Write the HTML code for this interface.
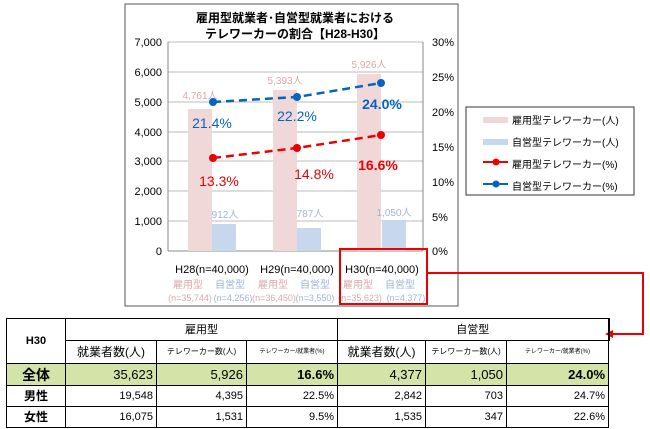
<!DOCTYPE html>
<html><head><meta charset="utf-8"><style>
body{margin:0;width:650px;height:429px;background:#fff;overflow:hidden;font-family:"Liberation Sans","Noto Sans CJK JP",sans-serif}
svg{position:absolute;left:0;top:0}
table{position:absolute;left:6px;top:318px;border-collapse:collapse;table-layout:fixed;width:602px;font-size:11px;color:#000}
td{border:1px solid #000;padding:0 3px;text-align:right;white-space:nowrap;overflow:hidden;line-height:14px}
</style></head><body>
<svg width="650" height="429" font-family="Liberation Sans, Noto Sans CJK JP, sans-serif">
<rect x="125" y="4" width="333" height="302" fill="#fff" stroke="#555" stroke-width="1"/>
<text x="295" y="22" font-size="12" font-weight="bold" text-anchor="middle">雇用型就業者･自営型就業者における</text>
<text x="295" y="38" font-size="12" font-weight="bold" text-anchor="middle">テレワーカーの割合【H28-H30】</text>
<g stroke="#bbb" stroke-width="1">
<line x1="168" y1="42" x2="423" y2="42"/><line x1="168" y1="72" x2="423" y2="72"/><line x1="168" y1="102" x2="423" y2="102"/><line x1="168" y1="132" x2="423" y2="132"/><line x1="168" y1="161" x2="423" y2="161"/><line x1="168" y1="191" x2="423" y2="191"/><line x1="168" y1="221" x2="423" y2="221"/>
</g>
<line x1="168" y1="42" x2="168" y2="251" stroke="#888"/><line x1="423" y1="42" x2="423" y2="251" stroke="#888"/>
<line x1="168" y1="251" x2="423" y2="251" stroke="#888"/>
<g font-size="11" text-anchor="end">
<text x="162" y="46">7,000</text><text x="162" y="76">6,000</text><text x="162" y="106">5,000</text><text x="162" y="136">4,000</text><text x="162" y="165">3,000</text><text x="162" y="195">2,000</text><text x="162" y="225">1,000</text><text x="162" y="255">0</text>
</g>
<g font-size="11">
<text x="432" y="46">30%</text><text x="432" y="81">25%</text><text x="432" y="116">20%</text><text x="432" y="151">15%</text><text x="432" y="186">10%</text><text x="432" y="221">5%</text><text x="432" y="255">0%</text>
</g>
<g fill="#f0d8d8"><rect x="188" y="109" width="24" height="142"/><rect x="273" y="90" width="24" height="161"/><rect x="357" y="74" width="24" height="177"/></g>
<g fill="#c6d7ee"><rect x="212" y="224" width="24" height="27"/><rect x="297" y="228" width="24" height="23"/><rect x="382" y="220" width="24" height="31"/></g>
<g font-size="10" fill="#d9a8a8" text-anchor="middle"><text x="200" y="99">4,761人</text><text x="285" y="84">5,393人</text><text x="369" y="68">5,926人</text></g>
<g font-size="10" fill="#9fb5d6" text-anchor="middle"><text x="225" y="218">912人</text><text x="310" y="217">787人</text><text x="394" y="216">1,050人</text></g>
<polyline points="213,102 297,97 381,83" fill="none" stroke="#0563c1" stroke-width="2.5" stroke-dasharray="8,5"/>
<polyline points="213,158 297,148 381,135" fill="none" stroke="#e00" stroke-width="2.5" stroke-dasharray="8,5"/>
<g fill="#0563c1"><circle cx="213" cy="102" r="4"/><circle cx="297" cy="97" r="4"/><circle cx="381" cy="83" r="4"/></g>
<g fill="#e00"><circle cx="213" cy="158" r="4"/><circle cx="297" cy="148" r="4"/><circle cx="381" cy="135" r="4"/></g>
<g font-size="14" fill="#0563c1" text-anchor="middle"><text x="212" y="128">21.4%</text><text x="297" y="121">22.2%</text><text x="382" y="109" font-weight="bold">24.0%</text></g>
<g font-size="14" fill="#e00" text-anchor="middle"><text x="219" y="186">13.3%</text><text x="314" y="179">14.8%</text><text x="378" y="170" font-weight="bold">16.6%</text></g>
<g font-size="11" text-anchor="middle"><text x="212" y="273">H28(n=40,000)</text><text x="297" y="273">H29(n=40,000)</text><text x="382" y="273">H30(n=40,000)</text></g>
<g font-size="10" fill="#d9a8a8" text-anchor="middle"><text x="188" y="288">雇用型</text><text x="273" y="288">雇用型</text><text x="358" y="288">雇用型</text>
<text x="190" y="301" font-size="9">(n=35,744)</text><text x="274" y="301" font-size="9">(n=36,450)</text><text x="360" y="301" font-size="9">(n=35,623)</text></g>
<g font-size="10" fill="#9fb5d6" text-anchor="middle"><text x="230" y="288">自営型</text><text x="315" y="288">自営型</text><text x="400" y="288">自営型</text>
<text x="233" y="301" font-size="9">(n=4,256)</text><text x="315" y="301" font-size="9">(n=3,550)</text><text x="406" y="301" font-size="9">(n=4,377)</text></g>
<rect x="340" y="249" width="87" height="55" fill="none" stroke="#e00" stroke-width="2"/>
<polyline points="427,273 643,273 643,334 612,334" fill="none" stroke="#e00" stroke-width="2"/>
<polygon points="605,334 613,330 613,338" fill="#e00"/>
<rect x="466" y="107" width="168" height="88" fill="#fff" stroke="#333"/>
<rect x="483" y="117" width="25" height="6" fill="#f0d8d8"/><rect x="483" y="139" width="25" height="6" fill="#c6d7ee"/>
<line x1="483" y1="162" x2="508" y2="162" stroke="#e00" stroke-width="2"/><circle cx="496" cy="162" r="3.5" fill="#e00"/>
<line x1="483" y1="184" x2="508" y2="184" stroke="#0563c1" stroke-width="2"/><circle cx="496" cy="184" r="3.5" fill="#0563c1"/>
<g font-size="10"><text x="512" y="124">雇用型テレワーカー(人)</text><text x="512" y="146">自営型テレワーカー(人)</text><text x="512" y="168">雇用型テレワーカー(%)</text><text x="512" y="190">自営型テレワーカー(%)</text></g>
</svg>
<table>
<colgroup><col style="width:59px"><col style="width:91px"><col style="width:90px"><col style="width:91px"><col style="width:88px"><col style="width:81px"><col style="width:102px"></colgroup>
<tr style="height:22px"><td rowspan="2" style="text-align:center;font-weight:bold">H30</td><td colspan="3" style="text-align:center">雇用型</td><td colspan="3" style="text-align:center;border-right:2px solid #000">自営型</td></tr>
<tr style="height:23px"><td style="text-align:center;font-size:12px">就業者数(人)</td><td style="text-align:center;font-size:8px;padding:0">テレワーカー数(人)</td><td style="text-align:center;font-size:6px;padding:0;border-left:1px dashed #000">テレワーカー/就業者(%)</td><td style="text-align:center;font-size:12px">就業者数(人)</td><td style="text-align:center;font-size:8px;padding:0">テレワーカー数(人)</td><td style="text-align:center;font-size:6px;padding:0;border-left:1px dashed #000">テレワーカー/就業者(%)</td></tr>
<tr style="background:#d4e3a8;font-size:13px;height:22px"><td style="text-align:center;font-weight:bold;font-size:14px">全体</td><td>35,623</td><td>5,926</td><td style="font-weight:bold;border-left:1px dashed #000">16.6%</td><td>4,377</td><td>1,050</td><td style="font-weight:bold;border-left:1px dashed #000">24.0%</td></tr>
<tr style="height:21px"><td style="text-align:center;font-weight:bold;font-size:12px">男性</td><td>19,548</td><td>4,395</td><td style="border-left:1px dashed #000">22.5%</td><td>2,842</td><td>703</td><td style="border-left:1px dashed #000">24.7%</td></tr>
<tr style="height:21px"><td style="text-align:center;font-weight:bold;font-size:12px">女性</td><td>16,075</td><td>1,531</td><td style="border-left:1px dashed #000">9.5%</td><td>1,535</td><td>347</td><td style="border-left:1px dashed #000">22.6%</td></tr>
</table>
</body></html>
